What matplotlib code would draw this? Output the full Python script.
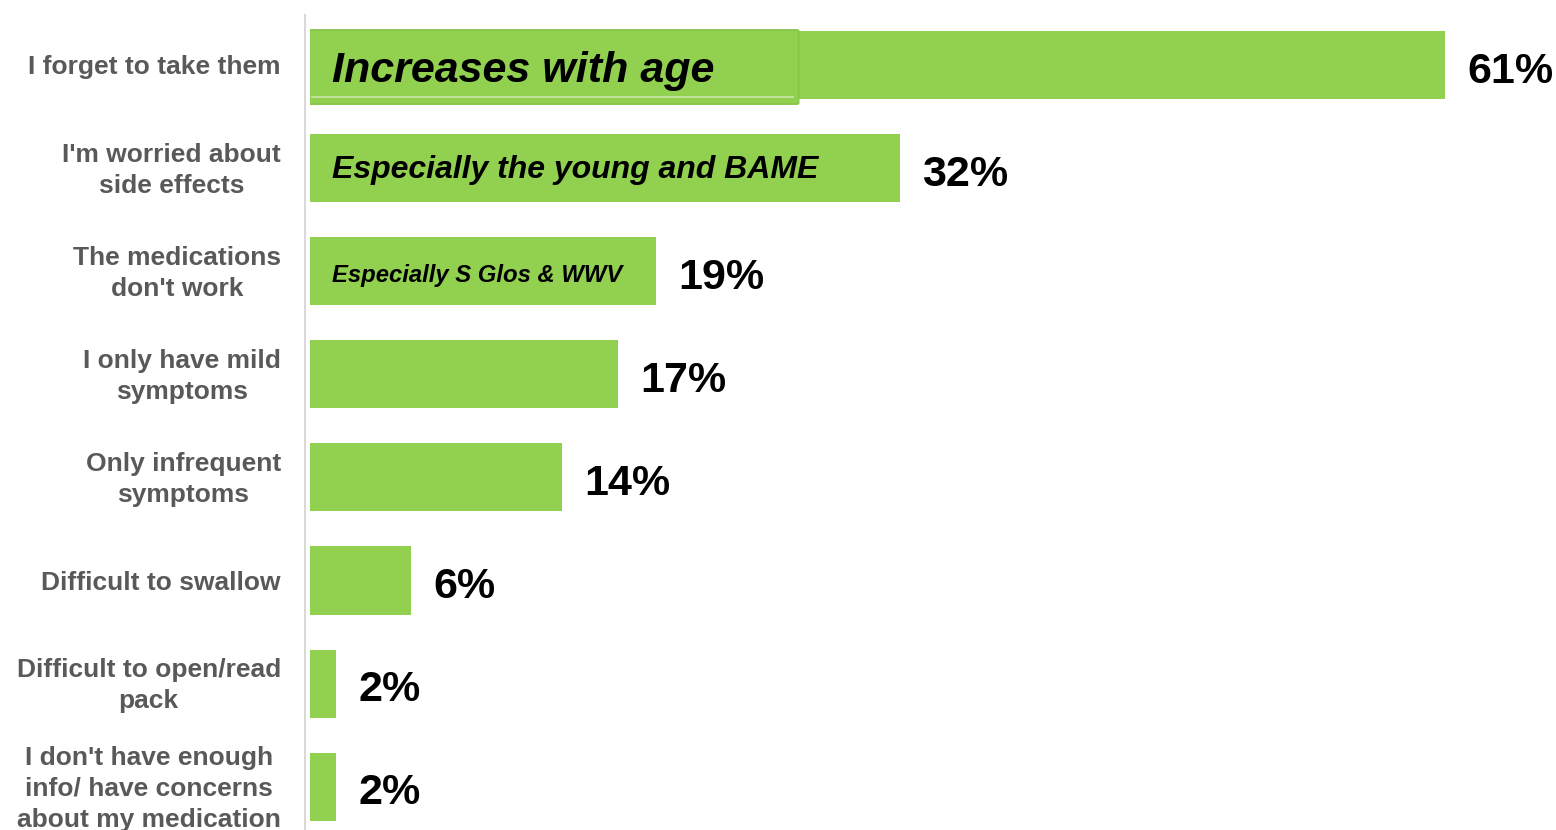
import matplotlib.pyplot as plt
from matplotlib.lines import Line2D
from matplotlib.patches import FancyBboxPatch

# survey answers, top to bottom
reasons = [
    "I forget to take them",
    "I'm worried about\nside effects",
    "The medications\ndon't work",
    "I only have mild\nsymptoms",
    "Only infrequent\nsymptoms",
    "Difficult to swallow",
    "Difficult to open/read\npack",
    "I don't have enough\ninfo/ have concerns\nabout my medication",
]
pct = [61, 32, 19, 17, 14, 6, 2, 2]

# call-out notes written inside some of the bars: text, font size, baseline drop (pt)
notes = {
    0: ("Increases with age", 31, -12.5),
    1: ("Especially the young and BAME", 23, -7.5),
    2: ("Especially S Glos & WWV", 17.2, -8),
}

green = "#92D050"
grey_txt = "#595959"

plt.rcParams["font.family"] = ["Liberation Sans", "DejaVu Sans"]

fig = plt.figure(figsize=(15.56, 8.3), dpi=100)
ax = fig.add_axes([310 / 1556, 0, 1 - 310 / 1556, 1])

ypos = list(range(len(pct)))
ax.barh(ypos, pct, height=0.66, color=green, zorder=2)

ax.set_xlim(0.6, 66.9)
ax.set_ylim(7.42, -0.63)
ax.axis("off")

# box behind the first note
box = FancyBboxPatch((0, -0.34), 26.6, 0.72, boxstyle="round,pad=0,rounding_size=0.15",
                     facecolor=green, edgecolor="#88c44c", lw=1.2, zorder=3, mutation_aspect=0.05)
ax.add_patch(box)
ax.plot([0.7, 26.3], [0.31, 0.31], color="#c8e6a8", lw=1.2, zorder=3)

for i, (lab, v) in enumerate(zip(reasons, pct)):
    ax.annotate(lab, xy=(0, i), xycoords=("axes fraction", "data"),
                xytext=(-21, -1.5), textcoords="offset points",
                ha="right", va="center", multialignment="center",
                fontsize=19, fontweight="bold", color=grey_txt, linespacing=1.36,
                annotation_clip=False)
    ax.annotate(f"{v}%", xy=(v, i), xytext=(16, -12.8), textcoords="offset points",
                ha="left", va="baseline", fontsize=31, fontweight="bold", color="black")

for i, (txt, size, drop) in notes.items():
    ax.annotate(txt, xy=(0, i), xycoords=("axes fraction", "data"),
                xytext=(16, drop), textcoords="offset points",
                ha="left", va="baseline", fontsize=size, fontweight="bold",
                fontstyle="italic", color="black", zorder=4)

# thin grey axis line left of the bars
fig.add_artist(Line2D([305 / 1556, 305 / 1556], [0, 815 / 830], color="#d9d9d9", lw=1.5))

fig.savefig("out.png", dpi=100)
